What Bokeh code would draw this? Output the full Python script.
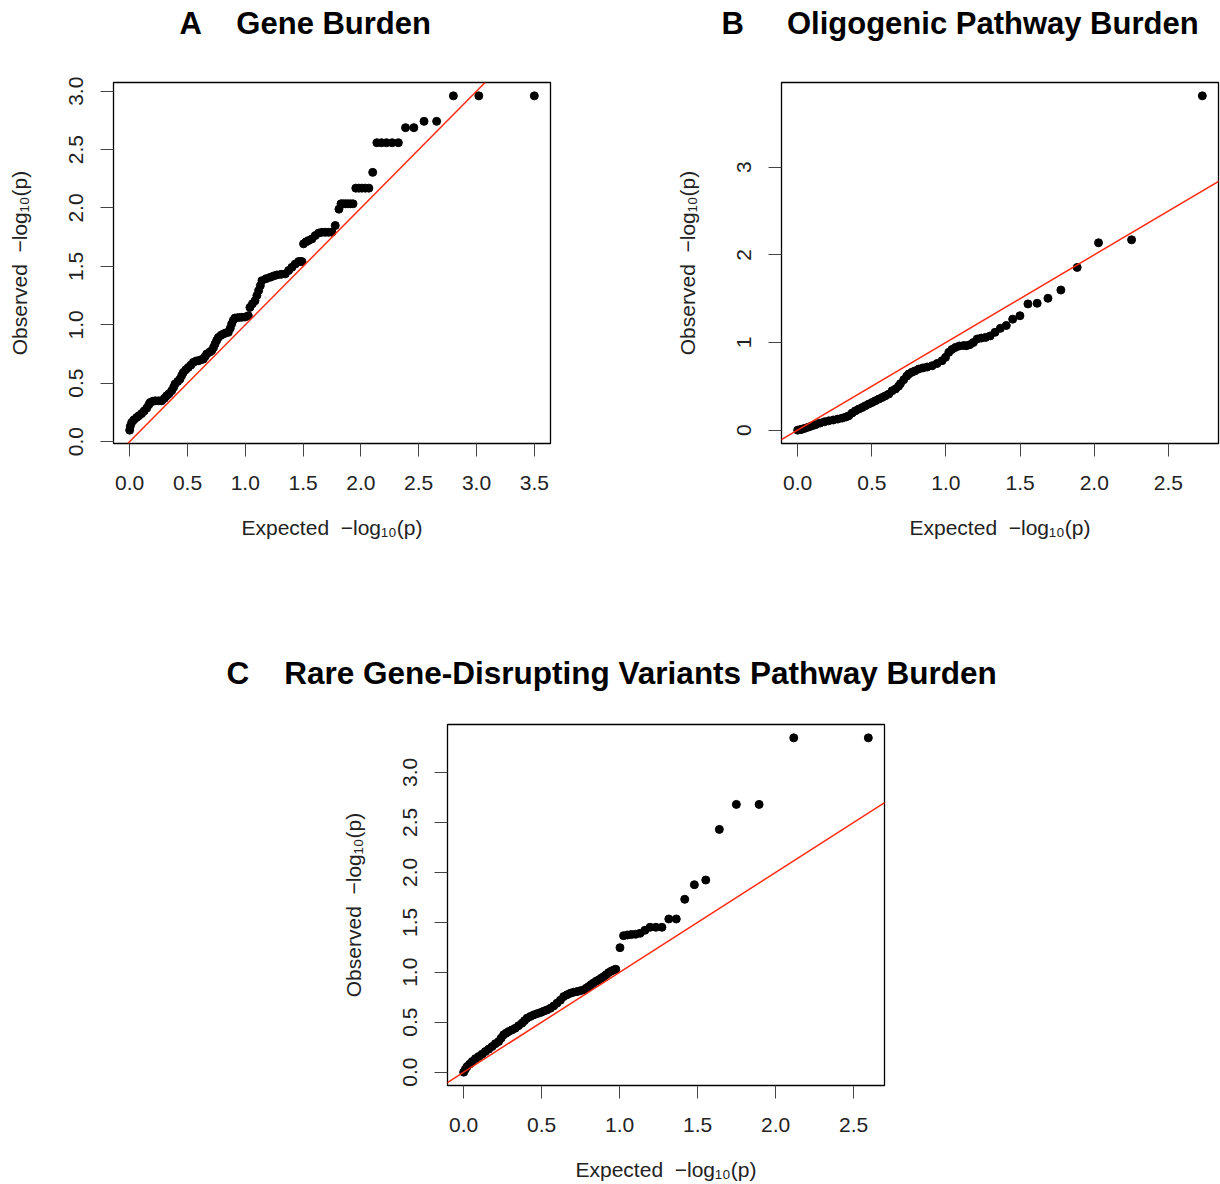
from bokeh.plotting import figure
from bokeh.layouts import column, row
from bokeh.models import FixedTicker, NumeralTickFormatter, Slope, Range1d, Title
from bokeh.embed import file_html
from bokeh.resources import INLINE

FONT = "Liberation Sans"
NB = "\u00a0"

# ---------------- data ----------------
# A  Gene Burden
gene_expected = [0.000, 0.005, 0.017, 0.035, 0.060, 0.080, 0.104, 0.125, 0.147, 0.165,
                 0.176, 0.200, 0.220, 0.250, 0.277, 0.300, 0.320, 0.340, 0.363, 0.380,
                 0.392, 0.415, 0.435, 0.450, 0.464, 0.485, 0.507, 0.530, 0.550, 0.575,
                 0.594, 0.615, 0.637, 0.652, 0.666, 0.690, 0.709, 0.725, 0.738, 0.752,
                 0.767, 0.790, 0.810, 0.830, 0.853, 0.870, 0.882, 0.897, 0.911, 0.940,
                 0.968, 0.997, 1.026, 1.040, 1.062, 1.084, 1.100, 1.115, 1.130, 1.144,
                 1.180, 1.216, 1.245, 1.274, 1.310, 1.346, 1.375, 1.403, 1.432, 1.461,
                 1.475, 1.490, 1.504, 1.525, 1.547, 1.576, 1.605, 1.634, 1.663, 1.692,
                 1.720, 1.750, 1.778, 1.810, 1.828, 1.846, 1.866, 1.887, 1.909, 1.932,
                 1.956, 1.982, 2.009, 2.038, 2.069, 2.102, 2.138, 2.178, 2.221, 2.270,
                 2.324, 2.386, 2.458, 2.546, 2.655, 2.800, 3.020, 3.500]
gene_observed = [0.098, 0.130, 0.163, 0.185, 0.206, 0.222, 0.240, 0.262, 0.286, 0.315,
                 0.334, 0.345, 0.349, 0.349, 0.349, 0.370, 0.392, 0.410, 0.435, 0.465,
                 0.492, 0.515, 0.535, 0.565, 0.592, 0.615, 0.635, 0.655, 0.678, 0.690,
                 0.692, 0.700, 0.706, 0.728, 0.750, 0.765, 0.778, 0.805, 0.835, 0.865,
                 0.892, 0.910, 0.921, 0.930, 0.935, 0.970, 1.007, 1.040, 1.058, 1.062,
                 1.064, 1.066, 1.078, 1.149, 1.180, 1.205, 1.250, 1.292, 1.335, 1.378,
                 1.395, 1.407, 1.418, 1.427, 1.432, 1.436, 1.465, 1.492, 1.520, 1.541,
                 1.541, 1.541, 1.693, 1.710, 1.721, 1.735, 1.764, 1.785, 1.792, 1.792,
                 1.792, 1.792, 1.850, 1.990, 2.036, 2.036, 2.036, 2.036, 2.036, 2.036,
                 2.170, 2.170, 2.170, 2.170, 2.170, 2.305, 2.559, 2.559, 2.559, 2.559,
                 2.559, 2.688, 2.688, 2.742, 2.742, 2.960, 2.960, 2.960]

# B  Oligogenic Pathway Burden
olig_expected = [0.000, 0.015, 0.030, 0.050, 0.074, 0.097, 0.120, 0.150, 0.180, 0.209,
                 0.240, 0.270, 0.300, 0.325, 0.344, 0.367, 0.389, 0.412, 0.435, 0.457,
                 0.479, 0.502, 0.524, 0.547, 0.570, 0.592, 0.614, 0.637, 0.660, 0.680,
                 0.693, 0.715, 0.735, 0.749, 0.770, 0.790, 0.817, 0.845, 0.873, 0.907,
                 0.940, 0.974, 0.997, 1.019, 1.040, 1.064, 1.090, 1.120, 1.138, 1.161,
                 1.185, 1.211, 1.238, 1.267, 1.298, 1.331, 1.367, 1.407, 1.450, 1.499,
                 1.553, 1.615, 1.688, 1.775, 1.885, 2.029, 2.252, 2.729]
olig_observed = [0.000, 0.005, 0.011, 0.022, 0.035, 0.049, 0.062, 0.080, 0.095, 0.106,
                 0.116, 0.126, 0.137, 0.150, 0.163, 0.195, 0.220, 0.240, 0.258, 0.278,
                 0.297, 0.316, 0.335, 0.354, 0.373, 0.392, 0.411, 0.449, 0.470, 0.500,
                 0.530, 0.575, 0.615, 0.640, 0.660, 0.675, 0.697, 0.710, 0.720, 0.735,
                 0.760, 0.792, 0.830, 0.887, 0.920, 0.944, 0.960, 0.965, 0.963, 0.975,
                 1.000, 1.040, 1.050, 1.058, 1.075, 1.116, 1.161, 1.194, 1.266, 1.305,
                 1.440, 1.447, 1.504, 1.598, 1.856, 2.137, 2.171, 3.813]

# C  Rare Gene-Disrupting Variants Pathway Burden
rare_expected = [0.000, 0.011, 0.022, 0.038, 0.054, 0.075, 0.096, 0.118, 0.139, 0.160,
                 0.182, 0.203, 0.224, 0.240, 0.256, 0.272, 0.288, 0.310, 0.331, 0.352,
                 0.374, 0.390, 0.406, 0.428, 0.449, 0.470, 0.492, 0.513, 0.534, 0.556,
                 0.577, 0.598, 0.620, 0.641, 0.663, 0.684, 0.705, 0.727, 0.748, 0.769,
                 0.785, 0.801, 0.817, 0.833, 0.849, 0.865, 0.881, 0.897, 0.913, 0.929,
                 0.945, 0.962, 0.975, 1.002, 1.025, 1.050, 1.075, 1.102, 1.131, 1.162,
                 1.195, 1.232, 1.271, 1.315, 1.363, 1.417, 1.479, 1.552, 1.639, 1.748,
                 1.894, 2.116, 2.594]
rare_observed = [0.000, 0.030, 0.056, 0.080, 0.106, 0.135, 0.156, 0.180, 0.206, 0.230,
                 0.256, 0.285, 0.306, 0.340, 0.373, 0.390, 0.406, 0.423, 0.440, 0.465,
                 0.490, 0.515, 0.540, 0.558, 0.573, 0.585, 0.596, 0.610, 0.623, 0.640,
                 0.663, 0.690, 0.720, 0.756, 0.775, 0.790, 0.800, 0.806, 0.815, 0.823,
                 0.840, 0.856, 0.876, 0.893, 0.910, 0.923, 0.940, 0.956, 0.975, 0.996,
                 1.010, 1.023, 1.030, 1.246, 1.366, 1.373, 1.378, 1.380, 1.390, 1.420,
                 1.450, 1.450, 1.450, 1.533, 1.533, 1.730, 1.876, 1.923, 2.430, 2.680,
                 2.680, 3.346, 3.346]

x_ticks_a = [0.0, 0.5, 1.0, 1.5, 2.0, 2.5, 3.0, 3.5]
y_ticks_a = [0.0, 0.5, 1.0, 1.5, 2.0, 2.5, 3.0]
x_ticks_b = [0.0, 0.5, 1.0, 1.5, 2.0, 2.5]
y_ticks_b = [0, 1, 2, 3]
x_ticks_c = [0.0, 0.5, 1.0, 1.5, 2.0, 2.5]
y_ticks_c = [0.0, 0.5, 1.0, 1.5, 2.0, 2.5, 3.0]

XLAB = "Expected" + NB + NB + "\u2212log\u2081\u2080(p)"
YLAB = "Observed" + NB + NB + "\u2212log\u2081\u2080(p)"


def r_range(vals):
    lo, hi = min(vals), max(vals)
    d = (hi - lo) * 0.04
    return Range1d(lo - d, hi + d)


def panel(xs, ys, xt, yt, yfmt, title, t_off, t_size, gap, borders):
    left, right, top, bottom = borders
    p = figure(frame_width=437, frame_height=361, output_backend="svg",
               toolbar_location=None, x_range=r_range(xs), y_range=r_range(ys),
               min_border_left=left, min_border_right=right,
               min_border_top=top, min_border_bottom=bottom,
               background_fill_color="white", border_fill_color="white")
    p.title = None
    p.grid.visible = False
    p.outline_line_color = "black"
    p.outline_line_width = 1.3
    # empty spacer between frame and title
    p.add_layout(Title(text=NB, text_font_size="10px", standoff=gap,
                       text_color="white"), "above")
    p.add_layout(Title(text=title, align="left", offset=t_off, standoff=0,
                       text_font=FONT, text_font_size=t_size,
                       text_font_style="bold", text_color="black"), "above")

    p.xaxis.ticker = FixedTicker(ticks=xt)
    p.yaxis.ticker = FixedTicker(ticks=yt)
    p.xaxis.formatter = NumeralTickFormatter(format="0.0")
    p.yaxis.formatter = NumeralTickFormatter(format=yfmt)
    for ax in (p.xaxis[0], p.yaxis[0]):
        ax.axis_line_color = None
        ax.major_tick_in = 0
        ax.major_tick_out = 13
        ax.major_tick_line_color = "#444444"
        ax.minor_tick_line_color = None
        ax.major_label_text_font = FONT
        ax.major_label_text_font_size = "21px"
        ax.major_label_text_color = "#222222"
        ax.axis_label_text_font = FONT
        ax.axis_label_text_font_size = "21px"
        ax.axis_label_text_font_style = "normal"
        ax.axis_label_text_color = "#222222"
    p.xaxis.axis_label = XLAB
    p.yaxis.axis_label = YLAB
    p.xaxis.major_label_standoff = 19
    p.yaxis.major_label_standoff = 17
    p.yaxis.major_label_orientation = "vertical"
    p.xaxis.axis_label_standoff = 23
    p.yaxis.axis_label_standoff = 36

    p.scatter(xs, ys, size=8, color="black", marker="circle")
    p.add_layout(Slope(gradient=1, y_intercept=0, line_color="#ff2a10", line_width=1.5))
    return p


pA = panel(gene_expected, gene_observed, x_ticks_a, y_ticks_a, "0.0",
           "A" + NB * 4 + "Gene Burden", 66, "31px", 29, (113, 60, 82, 157))
pB = panel(olig_expected, olig_observed, x_ticks_b, y_ticks_b, "0",
           "B" + NB * 5 + "Oligogenic Pathway Burden", -60, "31px", 29,
           (171, 2, 82, 157))
pC = panel(rare_expected, rare_observed, x_ticks_c, y_ticks_c, "0.0",
           "C" + NB * 4 + "Rare Gene-Disrupting Variants Pathway Burden", -221,
           "31.5px", 21, (447, 336, 124, 99))

layout = column(row(pA, pB), pC)
open("out.html", "w").write(file_html(layout, INLINE))
